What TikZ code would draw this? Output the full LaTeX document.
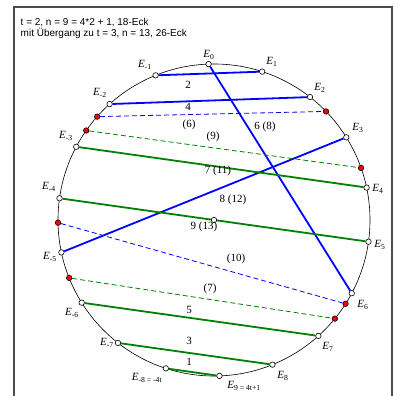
\documentclass[tikz,border=0pt]{standalone}
\usepackage{fontspec}
\setmainfont{Liberation Serif}
\newfontfamily\headfont{Liberation Sans}
\tikzset{
  vtx/.style={circle,draw=black,fill=white,line width=0.6pt,inner sep=0pt,minimum size=5.5pt},
  redpt/.style={vtx,fill=red},
  chordblue/.style={blue,line width=1.8pt},
  chordgreen/.style={green!50!black,line width=1.8pt},
  dashblue/.style={blue,line width=0.8pt,dash pattern=on 5pt off 3pt},
  dashgreen/.style={green!50!black,line width=0.8pt,dash pattern=on 5pt off 3pt},
  numlbl/.style={font=\fontsize{11}{11}\selectfont,inner sep=0pt},
  elbl/.style={font=\fontsize{11}{11}\selectfont,inner sep=0pt}
}
\newcommand{\Ev}[1]{\textit{E}\textsubscript{#1}}
\begin{document}
\begin{tikzpicture}[x=1pt,y=1pt]
  \useasboundingbox (0,0) rectangle (394,396);
  % Frame, open at the bottom
  \draw[black!70,line width=1.2pt] (14,0) -- (14,389) -- (392,389) -- (392,0);
  % Heading
  \node[anchor=north west,inner sep=0pt,align=left,font=\headfont\fontsize{10}{11}\selectfont]
    (head) at (20.5,378) {t = 2, n = 9 = 4*2 + 1, 18-Eck\\mit Übergang zu t = 3, n = 13, 26-Eck};
  % Circle
  \coordinate (C) at (214,176);
  \draw[line width=0.6pt] (C) circle (156pt);
  % Corners of the 18-gon
  \foreach \k in {0,...,9}
    \node[vtx] (E\k) at ([shift={({92-20*\k}:156pt)}]C) {};
  \foreach \k in {1,...,8}
    \node[vtx] (Em\k) at ([shift={({92+20*\k}:156pt)}]C) {};
  % Extra corners (26-gon)
  \foreach \a/\n in {138.5/a,145/b,181/c,201.8/d,44.1/e,19.5/f,-32.5/g,-39.2/h}
    \node[redpt] (R\n) at ([shift={(\a:156pt)}]C) {};
  % Solid chords
  \draw[chordblue] (Em1) -- (E1);
  \draw[chordblue] (Em2) -- (E2);
  \draw[chordblue] (E0) -- (E6);
  \draw[chordblue] (Em5) -- (E3);
  \draw[chordgreen] (Em3) -- (E4);
  \draw[chordgreen] (Em4) -- (E5);
  \draw[chordgreen] (Em6) -- (E7);
  \draw[chordgreen] (Em7) -- (E8);
  \draw[chordgreen] (Em8) -- (E9);
  % Dashed chords of the transition
  \draw[dashblue] (Ra) -- (Re);
  \draw[dashgreen] (Rb) -- (Rf);
  \draw[dashblue] (Rc) -- (Rg);
  \draw[dashgreen] (Rd) -- (Rh);
  % Centre
  \node[vtx] (M) at (C) {};
  % Chord numbers
  \node[numlbl] (n2) at (188,311) {2};
  \node[numlbl] (n4) at (188,289) {4};
  \node[numlbl] (n6) at (189,271) {(6)};
  \node[numlbl] (n9) at (213,259) {(9)};
  \node[numlbl] (n68) at (265,269) {6 (8)};
  \node[numlbl] (n711) at (218,225) {7 (11)};
  \node[numlbl] (n812) at (233,196) {8 (12)};
  \node[numlbl] (n913) at (204,169) {9 (13)};
  \node[numlbl] (n10) at (236,137) {(10)};
  \node[numlbl] (n7) at (210,107) {(7)};
  \node[numlbl] (n5) at (189,86) {5};
  \node[numlbl] (n3) at (189,55) {3};
  \node[numlbl] (n1) at (189,34) {1};
  % Corner names
  \node[elbl] (lE0) at (209,341) {\Ev{0}};
  \node[elbl] (lE1) at (272,334) {\Ev{1}};
  \node[elbl] (lE2) at (320,308) {\Ev{2}};
  \node[elbl] (lE3) at (358,268) {\Ev{3}};
  \node[elbl] (lE4) at (378,207) {\Ev{4}};
  \node[elbl] (lE5) at (380,151) {\Ev{5}};
  \node[elbl] (lE6) at (363,91) {\Ev{6}};
  \node[elbl] (lE7) at (328,49) {\Ev{7}};
  \node[elbl] (lE8) at (283,20) {\Ev{8}};
  \node[elbl] (lE9) at (244,10) {\Ev{9 = 4t+1}};
  \node[elbl] (lEm1) at (145,331) {\Ev{-1}};
  \node[elbl] (lEm2) at (100,303) {\Ev{-2}};
  \node[elbl] (lEm3) at (66,260) {\Ev{-3}};
  \node[elbl] (lEm4) at (49,209) {\Ev{-4}};
  \node[elbl] (lEm5) at (50,139) {\Ev{-5}};
  \node[elbl] (lEm6) at (72,83) {\Ev{-6}};
  \node[elbl] (lEm7) at (107,53) {\Ev{-7}};
  \node[elbl] (lEm8) at (147,18) {\Ev{-8 = -4t}};
\end{tikzpicture}
\end{document}
